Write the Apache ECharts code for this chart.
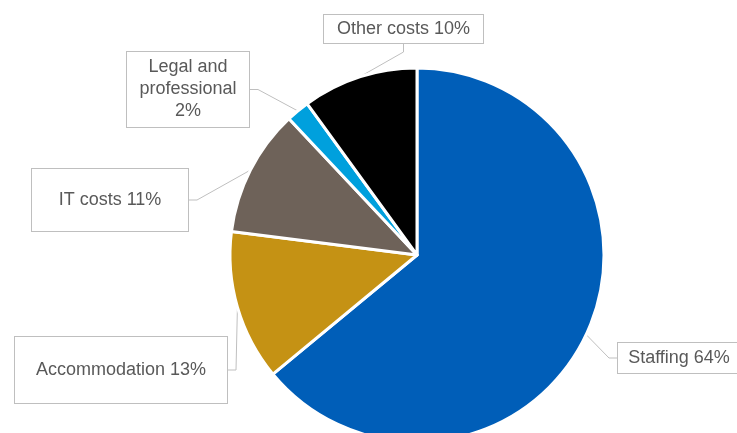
<!DOCTYPE html>
<html><head><meta charset="utf-8">
<script src="https://cdn.jsdelivr.net/npm/echarts@6/dist/echarts.min.js"></script>
<style>html,body{margin:0;padding:0;background:#fff}#c{width:737px;height:433px}</style>
</head><body><div id="c"></div>
<script>
const categories = ['Staffing', 'Accommodation', 'IT costs', 'Legal and\nprofessional', 'Other costs'];
const values = [64, 13, 11, 2, 10];
const colors = ['#005EB8', '#C59214', '#6E6259', '#00A0DD', '#000000'];
// label box layout (center x, center y, width, height)
const boxes = [
  [679, 358, 122, 30],
  [121, 370, 212, 66],
  [110, 200, 156, 62],
  [188, 89.5, 122, 75],
  [403.5, 29, 159, 28]
];
const chart = echarts.init(document.getElementById('c'), null, {renderer: 'canvas'});
chart.setOption({
  animation: false,
  series: [{
    type: 'pie',
    center: [417, 255],
    radius: [0, 187],
    startAngle: 90,
    clockwise: true,
    itemStyle: {borderColor: '#fff', borderWidth: 3},
    label: {
      show: true,
      position: 'outside',
      formatter: p => p.name + (p.name.indexOf('\n') >= 0 ? '\n' : ' ') + p.value + '%',
      color: '#595959',
      fontFamily: 'Liberation Sans, Arial, sans-serif',
      fontSize: 18,
      lineHeight: 22,
      backgroundColor: '#fff',
      borderColor: '#BFBFBF',
      borderWidth: 1,
      align: 'center',
      verticalAlign: 'middle'
    },
    labelLine: {show: true, length: 8, length2: 8, lineStyle: {color: '#BFBFBF', width: 1}},
    labelLayout: function (p) {
      const b = boxes[p.dataIndex];
      return {x: b[0], y: b[1], align: 'center', verticalAlign: 'middle'};
    },
    data: categories.map((c, i) => ({
      name: c, value: values[i],
      itemStyle: {color: colors[i]},
      label: {width: boxes[i][2], height: boxes[i][3]}
    }))
  }]
});
</script></body></html>
